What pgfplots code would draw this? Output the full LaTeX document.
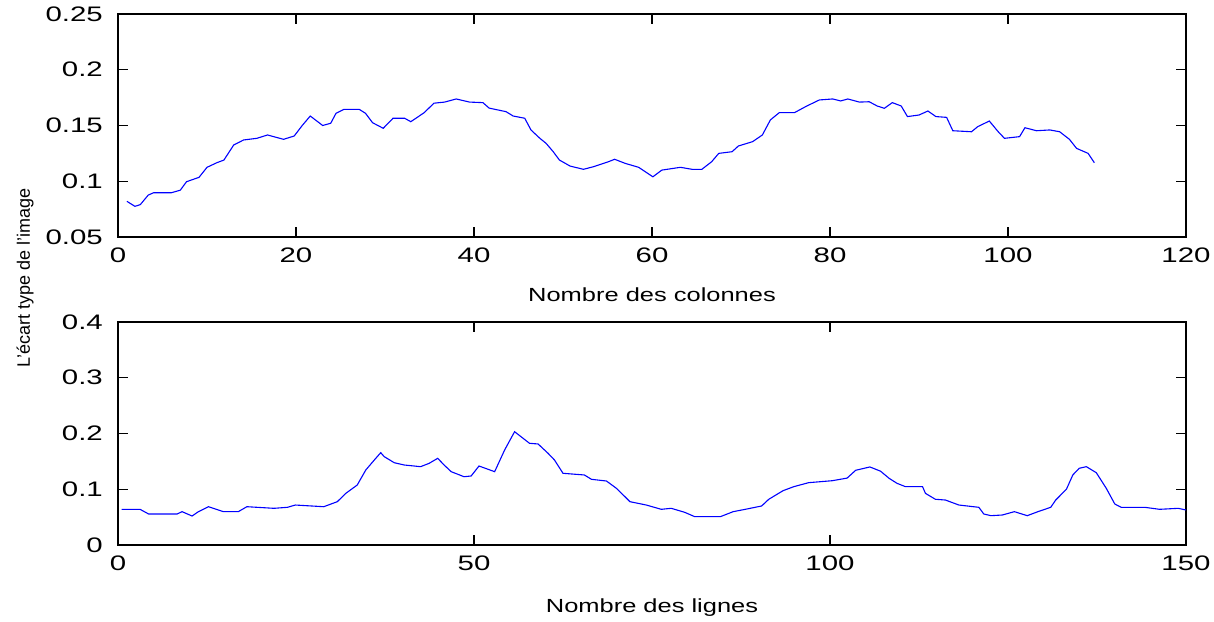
\documentclass[border=0pt]{standalone}
\usepackage{fontspec}
\setmainfont{Liberation Sans}
\usepackage{pgfplots}
\pgfplotsset{compat=1.18}
\definecolor{mblue}{RGB}{0,0,255}
\begin{document}
\begin{tikzpicture}
\pgfplotsset{
  myaxis/.style={
    scale only axis, width=534pt, height=111.5pt,
    anchor=south west,
    axis line style={line width=0.6pt},
    every tick/.style={black, line width=0.6pt},
    major tick length=5pt,
    tick align=inside,
    xticklabel style={font=\fontsize{10.5}{12}\selectfont, xscale=1.4, yshift=-2pt},
    yticklabel style={font=\fontsize{10.5}{12}\selectfont, xscale=1.4, xshift=-1.9pt},
    xlabel style={font=\fontsize{9.5}{11}\selectfont, xscale=1.34, at={(axis description cs:0.5,0)}, anchor=center},
  }
}
\begin{axis}[myaxis, at={(59pt,192pt)},
  xmin=0, xmax=120, ymin=0.05, ymax=0.25,
  xtick={0,20,40,60,80,100,120}, xticklabels={0,20,40,60,80,100,120},
  ytick={0.05,0.1,0.15,0.2,0.25}, yticklabels={0.05,0.1,0.15,0.2,0.25},
  xlabel={Nombre des colonnes}, xlabel style={yshift=-29pt}]
\addplot[mblue, line width=0.55pt] coordinates {
(1,0.082) (1.9,0.0775) (2.5,0.079) (3.4,0.0876) (4,0.0897) (6,0.0897) (7,0.092) (7.7,0.0996) (9.1,0.1035) (10,0.1125) (11.1,0.1166) (11.9,0.119) (13,0.1325) (14.1,0.137) (15.6,0.1385) (16.8,0.1415) (18.6,0.1376) (19.8,0.1406) (20.7,0.150) (21.6,0.1585) (23,0.150) (23.9,0.152) (24.5,0.161) (25.4,0.1645) (27.1,0.1645) (27.8,0.161) (28.6,0.1525) (29.8,0.1475) (30.9,0.1565) (32.2,0.1565) (32.9,0.1534) (34.4,0.1615) (35.5,0.170) (36.7,0.171) (38,0.1738) (39.5,0.171) (41,0.1705) (41.7,0.1656) (43.6,0.1624) (44.4,0.1585) (45.7,0.1565) (46.4,0.146) (47.4,0.1385) (48.1,0.134) (48.9,0.1265) (49.6,0.119) (50.8,0.1136) (52.3,0.1107) (53.4,0.113) (55.1,0.1175) (55.8,0.1197) (57,0.116) (58.5,0.1125) (60.1,0.104) (61.1,0.110) (63.2,0.1125) (64.5,0.1107) (65.6,0.1107) (66.7,0.1175) (67.5,0.125) (69,0.1265) (69.7,0.1316) (71.3,0.1355) (72.4,0.1415) (73.3,0.155) (74.3,0.1615) (76,0.1615) (77.4,0.1675) (78.8,0.1729) (80.3,0.1738) (81.2,0.172) (82,0.1738) (83.3,0.171) (84.4,0.1713) (85.3,0.1675) (86.1,0.1654) (87,0.1705) (88,0.1675) (88.7,0.158) (90,0.1594) (91,0.163) (91.9,0.158) (93.1,0.1573) (93.8,0.1453) (95.9,0.1444) (96.6,0.149) (97.9,0.154) (98.9,0.1444) (99.6,0.1385) (101.3,0.140) (101.9,0.148) (103.2,0.1453) (104.7,0.146) (105.8,0.1444) (106.9,0.1376) (107.7,0.1295) (109,0.125) (109.7,0.1166)
};
\end{axis}
\begin{axis}[myaxis, at={(59pt,38pt)},
  xmin=0, xmax=150, ymin=0, ymax=0.4,
  xtick={0,50,100,150}, xticklabels={0,50,100,150},
  ytick={0,0.1,0.2,0.3,0.4}, yticklabels={0,0.1,0.2,0.3,0.4},
  xlabel={Nombre des lignes}, xlabel style={yshift=-31.5pt}]
\addplot[mblue, line width=0.55pt] coordinates {
(0.5,0.064) (3.1,0.064) (4.3,0.0556) (8.3,0.0556) (9,0.0598) (10.4,0.052) (11.3,0.0598) (12.7,0.0687) (14.8,0.0598) (16.9,0.0598) (18.1,0.0687) (21.9,0.0658) (23.8,0.0676) (24.9,0.0717) (28.9,0.0687) (30.8,0.0777) (32,0.0927) (33.6,0.1076) (34.8,0.1345) (36,0.1525) (36.9,0.1656) (37.4,0.1584) (38.8,0.1476) (40.2,0.1435) (42.5,0.1405) (43.7,0.1465) (44.9,0.1555) (45.8,0.1435) (46.8,0.1315) (48.6,0.1225) (49.6,0.1238) (50.7,0.1417) (52.9,0.1315) (54.3,0.1704) (55.7,0.2032) (56.6,0.1943) (57.8,0.1824) (59,0.1812) (60.4,0.1645) (61.3,0.1525) (62.5,0.1286) (65.5,0.1256) (66.5,0.1178) (68.6,0.1148) (70,0.1017) (71.2,0.0866) (71.9,0.0777) (74.2,0.0717) (76.3,0.064) (77.7,0.0658) (79.6,0.0586) (81,0.0508) (84.6,0.0508) (86.4,0.0598) (88.1,0.064) (90.4,0.070) (91.4,0.082) (93.4,0.0974) (94.9,0.1046) (97,0.1118) (100.3,0.1153) (102.4,0.12) (103.6,0.134) (105.6,0.140) (107.1,0.1324) (108.3,0.1196) (109.4,0.1107) (110.6,0.1046) (113,0.1046) (113.4,0.0927) (114.8,0.082) (116.2,0.0807) (118.1,0.0717) (120.9,0.0676) (121.6,0.0556) (122.6,0.0526) (124.2,0.0538) (125.9,0.0598) (127.7,0.0526) (129.2,0.0598) (131,0.0676) (131.7,0.0807) (133.2,0.0999) (134.1,0.1256) (135,0.1376) (136,0.1405) (137.4,0.1297) (138.8,0.1017) (140,0.0735) (140.9,0.0676) (144.2,0.0676) (146.3,0.064) (148.9,0.0658) (150,0.0628)
};
\end{axis}
\node[rotate=90, font=\fontsize{9}{10}\selectfont, inner sep=0pt] at (12.5pt,171.5pt) {L'écart type de l'image};
\pgfresetboundingbox
\path[use as bounding box] (0,0) rectangle (607pt,310.5pt);
\end{tikzpicture}
\end{document}
